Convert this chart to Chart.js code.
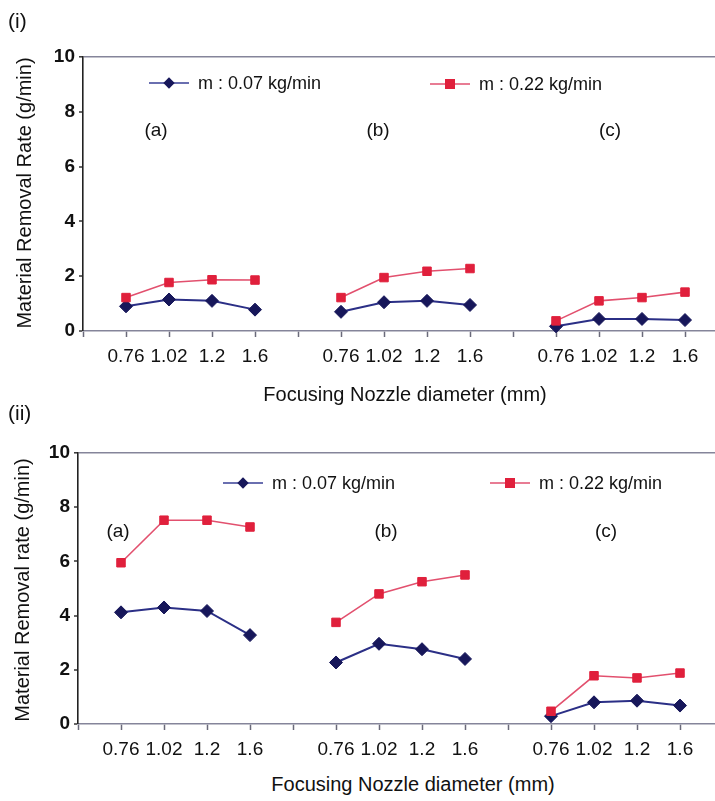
<!DOCTYPE html>
<html>
<head>
<meta charset="utf-8">
<script src="https://cdn.jsdelivr.net/npm/chart.js@4.4.1/dist/chart.umd.min.js"></script>
<style>
  html, body { margin: 0; padding: 0; background: #fff; }
  body { width: 715px; height: 801px; overflow: hidden; position: relative;
         font-family: "Liberation Sans", Arial, sans-serif; color: #111; }
  canvas { position: absolute; left: 0; }
  .t { position: absolute; white-space: nowrap; line-height: 1; }
  .rot { transform-origin: center center; transform: translate(-50%, -50%) rotate(-90deg); }
  .leg { position: absolute; height: 14px; }
  .leg .ln { position: absolute; top: 6px; height: 2px; }
  .leg .mk { position: absolute; }
</style>
</head>
<body>
<canvas id="c1" width="760" height="371" style="top:0px"></canvas>
<canvas id="c2" width="760" height="368" style="top:396px"></canvas>
<div id="overlay"></div>
<script>
// ---------- data ----------
const nozzleDiameters = ['0.76', '1.02', '1.2', '1.6'];
const groupLabels = ['(a)', '(b)', '(c)'];
const seriesNames = ['m : 0.07 kg/min', 'm : 0.22 kg/min'];
const yTicks = [0, 2, 4, 6, 8, 10];

// panel (i): Material Removal Rate (g/min), groups a, b, c
const panel1_m007 = [0.90, 1.15, 1.10, 0.78,   0.70, 1.05, 1.10, 0.95,   0.17, 0.44, 0.44, 0.40];
const panel1_m022 = [1.22, 1.77, 1.87, 1.86,   1.22, 1.95, 2.18, 2.28,   0.37, 1.10, 1.22, 1.42];
// panel (ii): Material Removal rate (g/min), groups a, b, c
const panel2_m007 = [4.12, 4.30, 4.17, 3.28,   2.27, 2.96, 2.76, 2.40,   0.29, 0.80, 0.86, 0.68];
const panel2_m022 = [5.95, 7.52, 7.52, 7.27,   3.75, 4.80, 5.25, 5.50,   0.47, 1.78, 1.70, 1.88];

// ---------- helpers ----------
function buildLabels() {
  const out = [''];
  groupLabels.forEach(() => { nozzleDiameters.forEach(d => out.push(d)); out.push(''); });
  return out;
}
function buildSeries(vals) {
  const out = [null];
  let k = 0;
  groupLabels.forEach(() => { nozzleDiameters.forEach(() => out.push(vals[k++])); out.push(null); });
  return out;
}

const BLUE = '#17175a';
const BLUE_LINE = '#2b2f86';
const RED = '#e0203c';
const RED_LINE = '#e2506e';
const FONT = '"Liberation Sans", Arial, sans-serif';

function makeChart(id, low, high, leftPx, topPad, rightPad) {
  const labels = buildLabels();
  return new Chart(document.getElementById(id), {
    type: 'line',
    data: {
      labels: labels,
      datasets: [
        { label: seriesNames[1], data: buildSeries(high), borderColor: RED_LINE, borderWidth: 1.6,
          pointStyle: 'rect', pointRadius: 6, pointBackgroundColor: RED, pointBorderColor: RED,
          pointBorderWidth: 1, spanGaps: false, order: 0, clip: false, tension: 0 },
        { label: seriesNames[0], data: buildSeries(low), borderColor: BLUE_LINE, borderWidth: 2,
          pointStyle: 'rectRot', pointRadius: 6.5, pointBackgroundColor: BLUE, pointBorderColor: BLUE,
          pointBorderWidth: 1, spanGaps: false, order: 1, clip: false, tension: 0 }
      ]
    },
    options: {
      responsive: false,
      animation: false,
      devicePixelRatio: 1,
      layout: { padding: { top: topPad, left: 0, right: rightPad, bottom: 0 } },
      plugins: { legend: { display: false }, tooltip: { enabled: false } },
      scales: {
        x: {
          type: 'category',
          offset: false,
          grid: { drawOnChartArea: false, drawTicks: true, tickLength: 6, tickColor: '#6a6a7a', tickWidth: 1.5 },
          border: { display: true, color: '#85859a', width: 1.6 },
          ticks: { autoSkip: false, maxRotation: 0, minRotation: 0, padding: 8,
                   color: '#111', font: { family: FONT, size: 19 } },
          afterFit: s => { s.height = 40; }
        },
        y: {
          min: 0, max: 10,
          afterBuildTicks: s => { s.ticks = yTicks.map(v => ({ value: v })); },
          grid: {
            drawOnChartArea: true, drawTicks: true, tickLength: 4, tickWidth: 1.5, tickColor: '#333',
            color: c => (c.tick && c.tick.value === 10) ? '#85859a' : 'rgba(0,0,0,0)',
            lineWidth: c => (c.tick && c.tick.value === 10) ? 1.6 : 0
          },
          border: { display: true, color: '#222', width: 1.6 },
          ticks: { padding: 4, color: '#111', font: { family: FONT, size: 19, weight: 'bold' } },
          afterFit: s => { s.width = leftPx; }
        }
      }
    }
  });
}

makeChart('c1', panel1_m007, panel1_m022, 83, 57, 32);
makeChart('c2', panel2_m007, panel2_m022, 78, 57, 37);

// ---------- text & legends (HTML) ----------
const ov = document.getElementById('overlay');
function text(str, x, y, size, opts = {}) {
  const d = document.createElement('div');
  d.className = 't' + (opts.rot ? ' rot' : '');
  d.textContent = str;
  d.style.fontSize = size + 'px';
  if (opts.bold) d.style.fontWeight = 'bold';
  d.style.left = x + 'px';
  d.style.top = y + 'px';
  if (!opts.rot) {
    d.style.transform = opts.center ? 'translate(-50%, -50%)' : 'translate(0, -50%)';
  }
  ov.appendChild(d);
}
function legend(x, y, kind, label) {
  const g = document.createElement('div');
  g.className = 'leg';
  g.style.left = x + 'px';
  g.style.top = (y - 7) + 'px';
  const ln = document.createElement('div');
  ln.className = 'ln';
  ln.style.left = '0px'; ln.style.width = '40px';
  ln.style.background = kind === 'blue' ? '#6a6fb0' : '#e87c94';
  ln.style.height = '1.5px';
  g.appendChild(ln);
  const mk = document.createElement('div');
  mk.className = 'mk';
  if (kind === 'blue') {
    mk.style.width = '8px'; mk.style.height = '8px'; mk.style.left = '16px'; mk.style.top = '3px';
    mk.style.background = BLUE; mk.style.transform = 'rotate(45deg)';
  } else {
    mk.style.width = '10px'; mk.style.height = '10px'; mk.style.left = '15px'; mk.style.top = '2px';
    mk.style.background = RED;
  }
  g.appendChild(mk);
  ov.appendChild(g);
  text(label, x + 49, y, 18);
}

// panel (i)
text('(i)', 8, 20, 21);
text('Material Removal Rate (g/min)', 24, 193, 20, { rot: true });
text('Focusing Nozzle diameter (mm)', 405, 394, 20, { center: true });
legend(149, 83, 'blue', seriesNames[0]);
legend(430, 84, 'red', seriesNames[1]);
text(groupLabels[0], 156, 129, 19, { center: true });
text(groupLabels[1], 378, 129, 19, { center: true });
text(groupLabels[2], 610, 129, 19, { center: true });

// panel (ii)
text('(ii)', 8, 412, 21);
text('Material Removal rate (g/min)', 22, 590, 20, { rot: true });
text('Focusing Nozzle diameter (mm)', 413, 784, 20, { center: true });
legend(223, 483, 'blue', seriesNames[0]);
legend(490, 483, 'red', seriesNames[1]);
text(groupLabels[0], 118, 530, 19, { center: true });
text(groupLabels[1], 386, 530, 19, { center: true });
text(groupLabels[2], 606, 530, 19, { center: true });
</script>
</body>
</html>
